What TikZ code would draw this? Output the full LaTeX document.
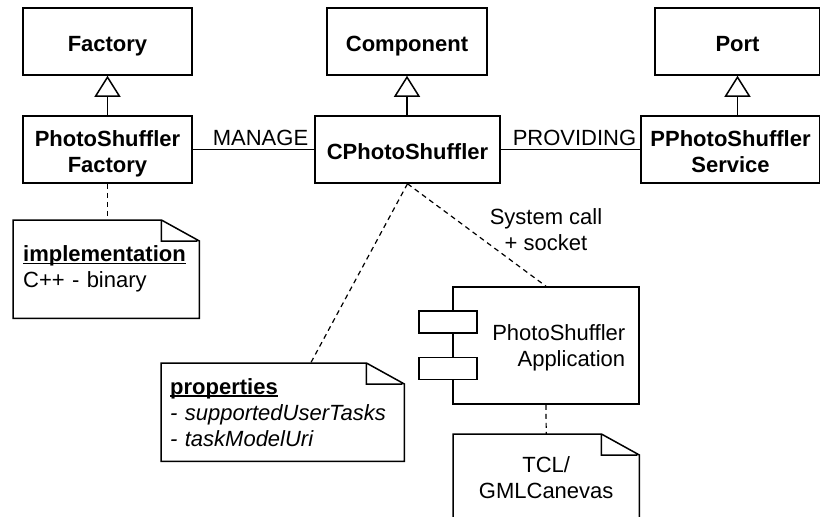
\documentclass[tikz,border=0pt]{standalone}
\usepackage{fontspec}
\setmainfont{Liberation Sans}
\usepackage{tikz}
\usetikzlibrary{arrows.meta,positioning,calc}

\newsavebox{\ulbox}
\newcommand{\ulword}[1]{\sbox{\ulbox}{#1}\rlap{\rule[-2.5pt]{\wd\ulbox}{1.2pt}}\usebox{\ulbox}}
\newcommand{\notedraw}[1]{%
  \draw[line width=1.5pt] ([xshift=-38pt]#1.north east) -- (#1.north west) -- (#1.south west)
    -- (#1.south east) -- ([yshift=-21pt]#1.north east) -- cycle
    ([xshift=-38pt]#1.north east) |- ([yshift=-21pt,xshift=-2pt]#1.north east);}

\begin{document}
\begin{tikzpicture}[x=1pt,y=-1pt,
  every node/.style={font=\fontsize{22}{26}\selectfont},
  cls/.style={draw, line width=1.5pt, align=center, minimum height=67pt, inner sep=0pt,
    text height=19pt, text depth=0pt, font=\fontsize{22}{26}\selectfont\bfseries},
  cls2/.style={cls, text height=45pt},
  notebox/.style={anchor=north west, align=left, inner xsep=10pt, minimum height=98pt},
  plug/.style={draw, fill=white, line width=1.5pt, minimum width=58pt, minimum height=22pt, inner sep=0pt},
  gen/.style={line width=1.5pt, -{Triangle[open,length=21pt,width=26pt]}},
  assoc/.style={line width=1.5pt},
  dep/.style={line width=1.2pt, dash pattern=on 5pt off 4pt}]
\useasboundingbox (0,0) rectangle (820,517);
\node[cls, minimum width=169pt] (factory) at (107.5,41.5) {Factory};
\node[cls, minimum width=160pt] (component) at (407,41.5) {Component};
\node[cls, minimum width=165pt] (port) at (737.5,41.5) {Port};
\node[cls2, minimum width=169pt] (psfactory) at (107.5,149.5) {PhotoShuffler\\Factory};
\node[cls, minimum width=185pt] (cps) at (407.5,149.5) {CPhotoShuffler};
\node[cls2, minimum width=179pt] (pps) at (730.5,149.5) {PPhotoShuffler\\Service};
\draw[gen] (psfactory) -- (factory);
\draw[gen] (cps.north -| component.south) -- (component.south);
\draw[gen] (pps.north -| port.south) -- (port.south);
\draw[assoc] (psfactory) -- node[above, inner sep=3pt, xshift=7pt] (manage) {MANAGE} (cps);
\draw[assoc] (cps) -- node[above, inner sep=3pt, xshift=4pt] (providing) {PROVIDING} (pps);
\node[notebox, text width=166pt] (impl) at (13,220) {\textbf{\ulword{implementation}}\\C++ - binary};
\node[notebox, text width=225pt, inner xsep=9pt] (props) at (161,363)
  {\textbf{\ulword{properties}}\\\textit{- supportedUserTasks}\\\textit{- taskModelUri}};
\node[notebox, align=center, text width=166pt, minimum height=86pt] (tcl) at (453,434) {TCL/\\GMLCanevas};
\notedraw{impl}
\notedraw{props}
\notedraw{tcl}
\node[draw, line width=1.5pt, minimum width=186pt, minimum height=117pt, inner sep=0pt] (app) at (546,345.5) {};
\node[anchor=east, align=right] (applabel) at ([xshift=-11pt,yshift=-2.5pt]app.east) {PhotoShuffler\\Application};
\node[plug] (plug1) at (448,322) {};
\node[plug] (plug2) at (448,368.5) {};
\node[align=center] (syscall) at (546,230) {System call\\+ socket};
\draw[dep] (psfactory.south) -- (psfactory.south |- impl.north);
\draw[dep] (cps.south) -- ([xshift=28pt]props.north);
\draw[dep] (cps.south) -- (app.north);
\draw[dep] (app.south) -- (tcl.north);
\end{tikzpicture}
\end{document}
